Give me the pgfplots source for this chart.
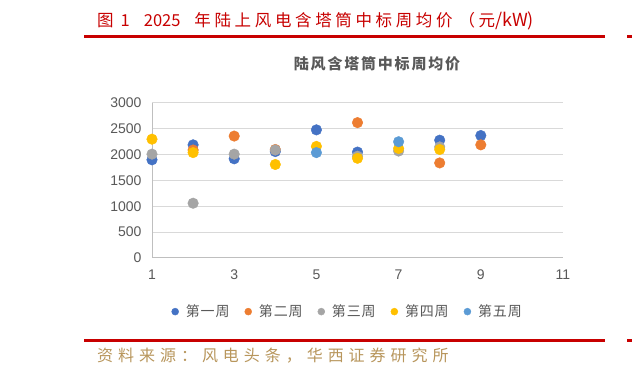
\documentclass[border=0pt]{standalone}
\usepackage{pgfplots}
\pgfplotsset{compat=1.18}
\usepackage{fontspec}
\setmainfont{Liberation Sans}
\newfontfamily\cjk{Noto Sans CJK SC}
\newfontfamily\cjktitle[LetterSpace=22]{Noto Sans CJK SC}
\newfontfamily\cjkchart[LetterSpace=12]{Noto Sans CJK SC}
\newfontfamily\cjksrc[LetterSpace=31]{Noto Sans CJK SC}
\newfontfamily\cjkleg[LetterSpace=6]{Noto Sans CJK SC}
\definecolor{s1}{HTML}{4472C4}
\definecolor{s2}{HTML}{ED7D31}
\definecolor{s3}{HTML}{A5A5A5}
\definecolor{s4}{HTML}{FFC000}
\definecolor{s5}{HTML}{5B9BD5}
\definecolor{txt}{HTML}{595959}
\definecolor{gridc}{HTML}{D9D9D9}
\definecolor{axc}{HTML}{BFBFBF}
\definecolor{hred}{HTML}{C80000}
\definecolor{src}{RGB}{184,150,92}
\begin{document}
\begin{tikzpicture}
\useasboundingbox (0,0) rectangle (632bp,376bp);
\fill[white] (0,0) rectangle (632bp,376bp);
% header
\node[anchor=base west, inner sep=0pt, text=hred, font=\fontsize{16.5bp}{16.5bp}\cjk] at (97bp,349bp) {{\cjktitle 图}\hspace{7bp}1\hspace{14bp}2025\hspace{14bp}{\cjktitle 年陆上风电含塔筒中标周均价}\hspace{6bp}{\cjktitle （元}{\fontsize{18bp}{18bp}\selectfont/kW)}};
\draw[hred, line width=3bp] (84bp,339bp) -- (605bp,339bp);
\draw[hred, line width=3bp] (627bp,339bp) -- (632bp,339bp);
% footer
\draw[hred, line width=3bp] (84bp,35bp) -- (605bp,35bp);
\draw[hred, line width=3bp] (627bp,35bp) -- (632bp,35bp);
\node[anchor=base west, inner sep=0pt, text=src, font=\fontsize{16bp}{16bp}\cjksrc] at (97bp,15bp) {资料来源：风电头条，华西证券研究所};
% chart title
\node[anchor=base, inner sep=0pt, text=txt, font=\fontsize{15bp}{15bp}\cjkchart\bfseries] at (377bp,306bp) {陆风含塔筒中标周均价};
\begin{axis}[
  at={(152bp,118bp)}, anchor=south west,
  scale only axis, width=411bp, height=155bp,
  xmin=1, xmax=11, ymin=0, ymax=3000,
  xtick={1,3,5,7,9,11}, ytick={0,500,1000,1500,2000,2500,3000},
  axis x line=bottom, axis y line=left,
  axis line style={axc, line width=1bp, -},
  ymajorgrids, grid style={gridc, line width=1bp},
  major tick length=0pt,
  tick label style={text=txt, font=\fontsize{14bp}{14bp}\selectfont},
  /pgf/number format/assume math mode=true,
  /pgf/number format/1000 sep={},
  xticklabel style={yshift=-8bp},
  yticklabel style={xshift=-7bp},
  clip=false,
  legend columns=5,
  legend style={draw=none, fill=none, at={(0.476,-0.346)}, anchor=center,
    font=\fontsize{14bp}{14bp}\cjkleg, text=txt,
    /tikz/every even column/.append style={column sep=13bp},
    /tikz/every odd column/.append style={column sep=5bp}},
  legend image code/.code={\fill (0bp,0bp) circle (3.5bp);},
]
\addplot[only marks, mark=*, mark size=5.3bp, s1, mark options={draw=none, fill=s1}] coordinates {
(1,1900) (2,2190) (3,1920) (4,2060) (5,2480) (6,2050) (8,2280) (9,2370)};
\addlegendentry{第一周}
\addplot[only marks, mark=*, mark size=5.3bp, s2, mark options={draw=none, fill=s2}] coordinates {
(2,2090) (3,2360) (4,2100) (6,2620) (8,1840) (9,2190)};
\addlegendentry{第二周}
\addplot[only marks, mark=*, mark size=5.3bp, s3, mark options={draw=none, fill=s3}] coordinates {
(1,2010) (2,1060) (3,2010) (4,2090) (6,1970) (7,2070) (8,2150)};
\addlegendentry{第三周}
\addplot[only marks, mark=*, mark size=5.3bp, s4, mark options={draw=none, fill=s4}] coordinates {
(1,2300) (2,2040) (4,1810) (5,2160) (6,1930) (7,2120) (8,2100)};
\addlegendentry{第四周}
\addplot[only marks, mark=*, mark size=5.3bp, s5, mark options={draw=none, fill=s5}] coordinates {
(5,2040) (7,2250)};
\addlegendentry{第五周}
\end{axis}
\end{tikzpicture}
\end{document}
